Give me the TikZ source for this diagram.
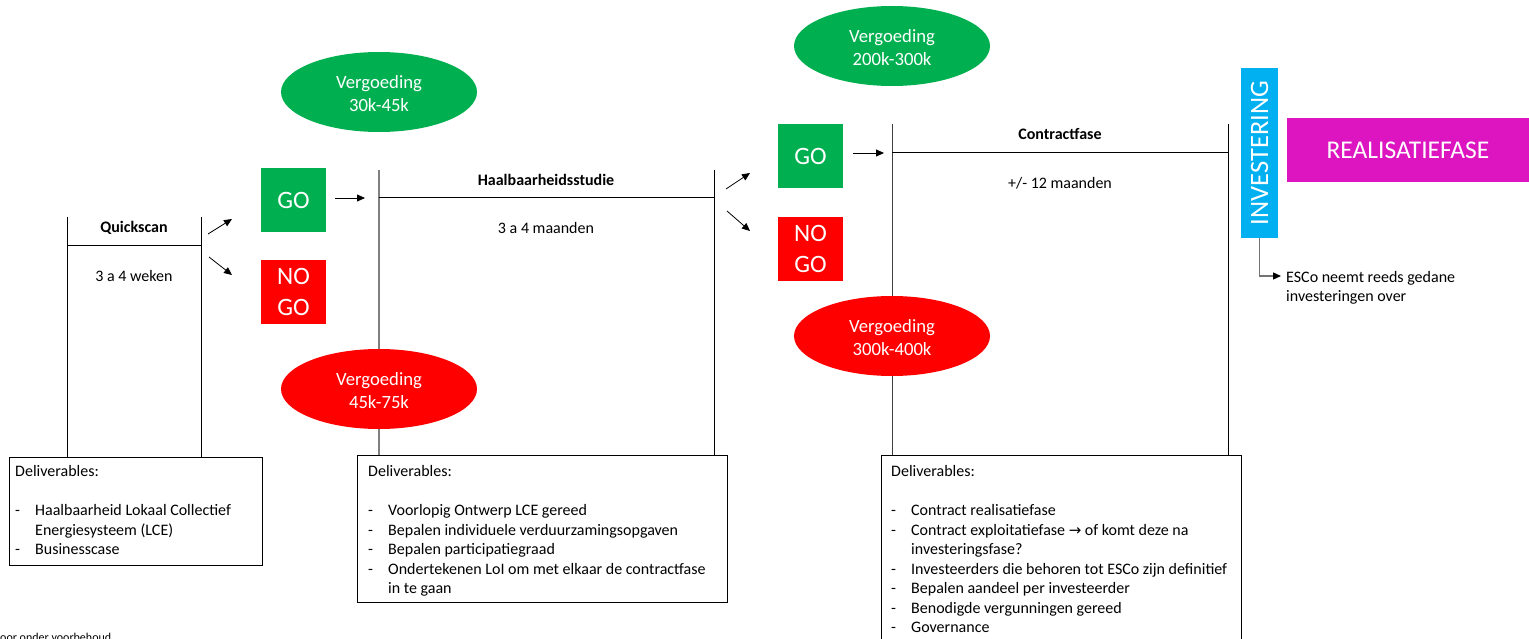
\documentclass[tikz,border=0pt]{standalone}
\usepackage{fontspec}
\setmainfont{Carlito}
\newfontfamily\djv{DejaVu Sans}
\usetikzlibrary{arrows.meta,shapes.geometric}
\definecolor{ggreen}{HTML}{00B050}
\definecolor{rred}{HTML}{FF0000}
\definecolor{bblue}{HTML}{00B0F0}
\definecolor{mmag}{RGB}{221,21,193}
\newcommand\itm{\makebox[20pt][l]{-}}
\newcommand\itmsp{\hspace*{20pt}}
\begin{document}
\begin{tikzpicture}[x=1pt,y=-1pt,
 phaseline/.style={line width=1pt},
 greyline/.style={line width=1.6pt,draw=black!50},
 arr/.style={-{Triangle[length=8pt,width=7pt]},line width=0.8pt},
 gobox/.style={fill=ggreen,text=white,minimum width=65pt,minimum height=64pt,inner sep=0pt,
   font=\fontsize{25}{31}\selectfont,align=center},
 nogobox/.style={gobox,fill=rred},
 fee/.style={ellipse,minimum width=196pt,minimum height=80pt,inner sep=0pt,text=white,
   font=\fontsize{18.7}{23}\selectfont,align=center},
 ttl/.style={inner sep=0pt,font=\fontsize{16}{19.5}\selectfont\bfseries},
 dur/.style={inner sep=0pt,font=\fontsize{16}{19.5}\selectfont},
 delbox/.style={draw,line width=0.8pt,anchor=north west,inner sep=0pt},
 deltext/.style={anchor=north west,inner sep=0pt,font=\fontsize{16}{19.5}\selectfont,align=left},
]
\useasboundingbox (0,0) rectangle (1529,639);
\clip (0,0) rectangle (1529,639);

% deliverables boxes
\node[delbox,minimum width=253pt,minimum height=108pt] (d1) at (9,457) {};
\node[delbox,minimum width=370pt,minimum height=147pt] (d2) at (357,455) {};
\node[delbox,minimum width=360pt,minimum height=210pt] (d3) at (881,455) {};

\node[deltext] (d1t) at (15,463) {\strut Deliverables:\\ \mbox{}\\
\itm Haalbaarheid Lokaal Collectief\\
\itmsp Energiesysteem (LCE)\\
\itm Businesscase};
\node[deltext] (d2t) at (368,463) {\strut Deliverables:\\ \mbox{}\\
\itm Voorlopig Ontwerp LCE gereed\\
\itm Bepalen individuele verduurzamingsopgaven\\
\itm Bepalen participatiegraad\\
\itm Ondertekenen LoI om met elkaar de contractfase\\
\itmsp in te gaan};
\node[deltext] (d3t) at (891,463) {\strut Deliverables:\\ \mbox{}\\
\itm Contract realisatiefase\\
\itm Contract exploitatiefase {\djv\fontsize{15}{19.5}\selectfont →} of komt deze na\\
\itmsp investeringsfase?\\
\itm Investeerders die behoren tot ESCo zijn definitief\\
\itm Bepalen aandeel per investeerder\\
\itm Benodigde vergunningen gereed\\
\itm Governance};

% Quickscan phase
\coordinate (qL) at (67,217);
\coordinate (qR) at (201,217);
\coordinate (qM) at (67,246);
\draw[phaseline] (qL) -- (qL |- d1.north);
\draw[phaseline] (qR) -- (qR |- d1.north);
\draw[phaseline] (qM) -- (qM -| qR);
\node[ttl] (qtitle) at (134,228) {Quickscan};
\node[dur] (qdur) at (134,276) {3 a 4 weken};

% Haalbaarheidsstudie phase
\coordinate (hL) at (379,170);
\coordinate (hR) at (714,170);
\coordinate (hM) at (379,198);
\draw[greyline] (hL) -- (hL |- d2.north);
\draw[phaseline] (hR) -- (hR |- d2.north);
\draw[phaseline] (hM) -- (hM -| hR);
\node[ttl] (htitle) at (546,180) {Haalbaarheidsstudie};
\node[dur] (hdur) at (546,228) {3 a 4 maanden};

% Contractfase phase
\coordinate (cL) at (892,124);
\coordinate (cR) at (1228,124);
\coordinate (cM) at (892,153);
\draw[phaseline,draw=black!75] (cL) -- (cL |- d3.north);
\draw[phaseline] (cR) -- (cR |- d3.north);
\draw[phaseline] (cM) -- (cM -| cR);
\node[ttl] (ctitle) at (1060,134) {Contractfase};
\node[dur] (cdur) at (1060,183) {+/- 12 maanden};

% go / no go
\node[gobox] (go1) at (293.5,200) {GO};
\node[nogobox] (nogo1) at (293.5,292) {NO\\GO};
\node[gobox] (go2) at (810.5,156) {GO};
\node[nogobox] (nogo2) at (810.5,249) {NO\\GO};

% decision arrows
\coordinate (a1s) at (208,234); \coordinate (a1e) at (232,219);
\coordinate (a2s) at (209,257); \coordinate (a2e) at (232,275);
\coordinate (a3s) at (726,189); \coordinate (a3e) at (750,173);
\coordinate (a4s) at (727,211); \coordinate (a4e) at (750,231);
\draw[arr] (a1s) -- (a1e);
\draw[arr] (a2s) -- (a2e);
\draw[arr] (a3s) -- (a3e);
\draw[arr] (a4s) -- (a4e);
\coordinate (g1s) at (335,198); \coordinate (g1e) at (365,198);
\coordinate (g2s) at (853,153); \coordinate (g2e) at (884,153);
\draw[arr] (g1s) -- (g1e);
\draw[arr] (g2s) -- (g2e);

% fees
\node[fee,fill=ggreen] (f1) at (379,92) {\strut Vergoeding\\30k-45k};
\node[fee,fill=rred] (f2) at (379,389) {\strut Vergoeding\\45k-75k};
\node[fee,fill=ggreen] (f3) at (892,46) {\strut Vergoeding\\200k-300k};
\node[fee,fill=rred] (f4) at (892,336) {\strut Vergoeding\\300k-400k};

% investering / realisatie
\node[fill=bblue,rotate=90,minimum width=170pt,minimum height=37pt,inner sep=0pt,
  text=white,font=\fontsize{26.5}{30}\selectfont] (inv) at (1259.5,153) {INVESTERING};
\node[fill=mmag,minimum width=242pt,minimum height=64pt,inner sep=0pt,
  text=white,font=\fontsize{25.5}{30}\selectfont] (real) at (1408,150) {REALISATIEFASE};
\node[anchor=west,align=left,inner sep=0pt,font=\fontsize{16}{19.5}\selectfont] (esco) at (1286,288)
  {ESCo neemt reeds gedane\\investeringen over};
\coordinate (escoarr) at (1281,276);
\draw[draw=black!55,line width=1.2pt,-{Triangle[length=8pt,width=7pt,color=black]}] (inv.west) |- (escoarr);

% note at the bottom edge (cut off in the original)
\node[anchor=north west,inner sep=0pt,font=\fontsize{12}{14}\selectfont] (note) at (0,633) {oor onder voorbehoud};
\end{tikzpicture}
\end{document}
